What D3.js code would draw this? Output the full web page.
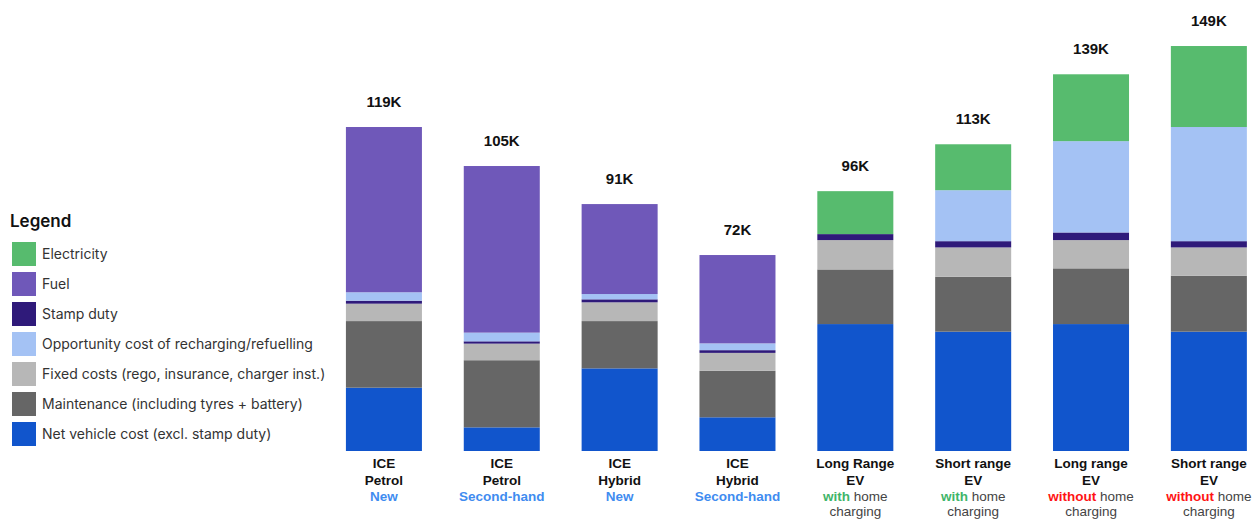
<!DOCTYPE html>
<html>
<meta charset="utf-8">
<head>
  <title>Total cost of ownership by vehicle type</title>
</head>

<style>
body { margin: 0; background: #fff; }
.legend text {
  font-family: Inter, "Noto Sans", sans-serif;
  font-size: 14px;
  fill: #333;
}
.legend .title {
  font-size: 17px;
  font-weight: 600;
  fill: #111;
}
.total {
  font-family: "Liberation Sans", Arial, sans-serif;
  font-size: 15px;
  font-weight: bold;
  fill: #111;
  text-anchor: middle;
}
.xlab text {
  font-family: "Liberation Sans", Arial, sans-serif;
  font-size: 13.5px;
  text-anchor: middle;
}
</style>

<body>
  <svg width="1254" height="521"></svg>

  <script src="https://cdnjs.cloudflare.com/ajax/libs/d3/7.8.5/d3.min.js"></script>
  <script>
// category labels, one array per line
var line1 = ['ICE', 'ICE', 'ICE', 'ICE', 'Long Range', 'Short range', 'Long range', 'Short range'];
var line2 = ['Petrol', 'Petrol', 'Hybrid', 'Hybrid', 'EV', 'EV', 'EV', 'EV'];
var line3 = ['New', 'Second-hand', 'New', 'Second-hand', 'with', 'with', 'without', 'without'];
var totals = ['119K', '105K', '91K', '72K', '96K', '113K', '139K', '149K'];

// values in $K, bottom to top
var netVehicle  = [23.3, 8.7, 30.4, 12.4, 46.7, 43.9, 46.7, 43.9];
var maintenance = [24.5, 24.7, 17.4, 17.1, 20.1, 20.2, 20.5, 20.6];
var fixedCosts  = [6.4, 6.1, 6.9, 6.6, 10.8, 10.8, 10.4, 10.4];
var stampDuty   = [1.1, 0.85, 1.1, 1.0, 2.2, 2.3, 2.8, 2.3];
var opportunity = [3.1, 3.2, 1.95, 2.5, 0, 18.75, 33.6, 42.0];
var fuel        = [60.8, 61.3, 33.1, 32.5, 0, 0, 0, 0];
var electricity = [0, 0, 0, 0, 15.8, 16.9, 24.6, 29.8];

var series = [
  {key: 'net', name: 'Net vehicle cost (excl. stamp duty)', color: '#1155cc', values: netVehicle},
  {key: 'maint', name: 'Maintenance (including tyres + battery)', color: '#666666', values: maintenance},
  {key: 'fixed', name: 'Fixed costs (rego, insurance, charger inst.)', color: '#b7b7b7', values: fixedCosts},
  {key: 'stamp', name: 'Stamp duty', color: '#2f1a7a', values: stampDuty},
  {key: 'opp', name: 'Opportunity cost of recharging/refuelling', color: '#a4c2f4', values: opportunity},
  {key: 'fuel', name: 'Fuel', color: '#6f58b9', values: fuel},
  {key: 'elec', name: 'Electricity', color: '#57bb6e', values: electricity}
];
// legend lists them in its own order
var legendOrder = ['elec', 'fuel', 'stamp', 'opp', 'fixed', 'maint', 'net'];

var rows = line1.map(function(d, i) {
  var r = {i: i};
  series.forEach(function(s) { r[s.key] = s.values[i]; });
  return r;
});

var svg = d3.select('svg');

var x = d3.scaleBand()
  .domain(d3.range(line1.length))
  .range([325, 1267.8])
  .paddingInner(0.355)
  .paddingOuter(0.1775);

var y = d3.scaleLinear()
  .domain([0, 150])
  .range([451, 43.3]);

var stack = d3.stack().keys(series.map(function(s) { return s.key; }));
var layers = stack(rows);

svg.append('g')
  .selectAll('g')
  .data(layers)
  .enter()
  .append('g')
  .attr('fill', function(d, i) { return series[i].color; })
  .selectAll('rect')
  .data(function(d) { return d; })
  .enter()
  .append('rect')
  .attr('x', function(d) { return x(d.data.i); })
  .attr('width', x.bandwidth())
  .attr('y', function(d) { return y(d[1]); })
  .attr('height', function(d) { return y(d[0]) - y(d[1]); });

// totals above bars
svg.append('g')
  .selectAll('text')
  .data(rows)
  .enter()
  .append('text')
  .attr('class', 'total')
  .attr('x', function(d) { return x(d.i) + x.bandwidth() / 2; })
  .attr('y', function(d) { return y(d3.sum(series, function(s) { return d[s.key]; })) - 20; })
  .text(function(d) { return totals[d.i]; });

// category labels
var lab = svg.append('g')
  .attr('class', 'xlab')
  .selectAll('text')
  .data(rows)
  .enter()
  .append('g')
  .attr('transform', function(d) { return 'translate(' + (x(d.i) + x.bandwidth() / 2) + ',0)'; });

lab.append('text').attr('y', 468).attr('font-weight', 'bold').attr('fill', '#111')
  .text(function(d) { return line1[d.i]; });
lab.append('text').attr('y', 484.5).attr('font-weight', 'bold').attr('fill', '#111')
  .text(function(d) { return line2[d.i]; });

var l3 = lab.append('text').attr('y', 500.5);
l3.append('tspan')
  .attr('font-weight', 'bold')
  .attr('fill', function(d) {
    var w = line3[d.i];
    if (w === 'with') return '#3fb56a';
    if (w === 'without') return '#ff1414';
    return '#3f8cf0';
  })
  .text(function(d) { return line3[d.i]; });
l3.append('tspan')
  .attr('fill', '#444')
  .text(function(d) { return d.i > 3 ? ' home' : ''; });

lab.filter(function(d) { return d.i > 3; })
  .append('text').attr('y', 516).attr('fill', '#444')
  .text('charging');

// legend
var legend = svg.append('g').attr('class', 'legend');
legend.append('text').attr('class', 'title').attr('x', 10).attr('y', 227).text('Legend');

var items = legend.selectAll('g.item')
  .data(legendOrder.map(function(k) { return series.find(function(s) { return s.key === k; }); }))
  .enter()
  .append('g')
  .attr('class', 'item')
  .attr('transform', function(d, i) { return 'translate(12,' + (242 + i * 30) + ')'; });

items.append('rect')
  .attr('width', 24)
  .attr('height', 24)
  .attr('fill', function(d) { return d.color; });

items.append('text')
  .attr('x', 30)
  .attr('y', 17)
  .text(function(d) { return d.name; });
  </script>
</body>
</html>
